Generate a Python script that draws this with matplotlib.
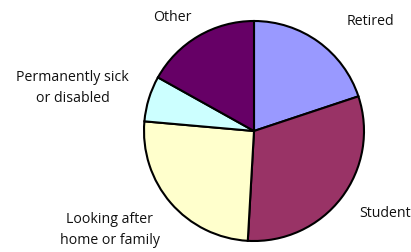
import matplotlib.pyplot as plt

# Data
categories = ["Retired", "Student", "Looking after\nhome or family", "Permanently sick\nor disabled", "Other"]
shares = [19.9, 31.0, 25.5, 6.7, 16.9]
colors = ["#9999FF", "#993366", "#FFFFCC", "#CCFFFF", "#660066"]

# label centres, in units of the pie radius
label_pos = [(1.06, 1.0), (1.19, -0.74), (-1.31, -0.89), (-1.65, 0.40), (-0.74, 1.04)]

plt.rcParams['font.family'] = ['Open Sans', 'DejaVu Sans']

fig = plt.figure(figsize=(4.11, 2.53), dpi=100)
ax = fig.add_axes([0, 0, 1, 1])

ax.pie(shares, colors=colors, startangle=90, counterclock=False, radius=1,
       wedgeprops=dict(edgecolor="black", linewidth=1.5))

for name, (x, y) in zip(categories, label_pos):
    ax.text(x, y, name, ha="center", va="center", fontsize=10.2, color="#111111",
            linespacing=1.6)

# centre at (254, 132) px, radius 110 px
ax.set_aspect("auto")
ax.set_xlim(-254 / 110, (411 - 254) / 110)
ax.set_ylim(-(253 - 132) / 110, 132 / 110)
ax.axis("off")

plt.savefig("out.png", dpi=100)
